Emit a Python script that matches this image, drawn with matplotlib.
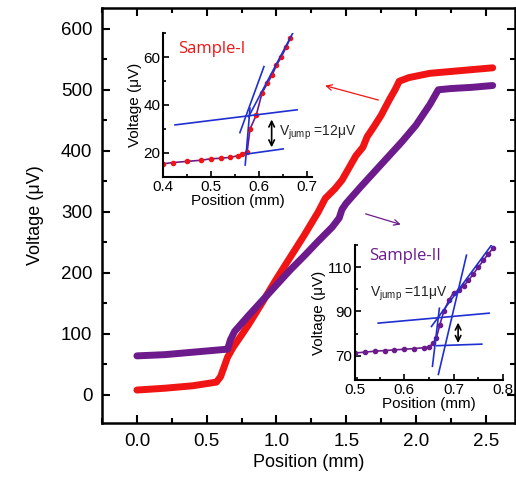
import matplotlib
matplotlib.use("Agg")
import matplotlib.pyplot as plt
from matplotlib.ticker import MultipleLocator

plt.rcParams['font.family'] = ['Liberation Sans', 'DejaVu Sans']

RED = '#f01414'
PURPLE = '#6c1a8c'
BLUE = '#1f2fd0'

# ---- main curves (position mm, voltage uV) ----
x_s1 = [0.0, 0.2, 0.4, 0.57, 0.60, 0.65, 0.69, 0.8, 0.9, 1.0, 1.1, 1.2, 1.3, 1.35,
        1.42, 1.47, 1.52, 1.57, 1.62, 1.65, 1.7, 1.75, 1.81, 1.85, 1.88, 1.95, 2.1, 2.3, 2.55]
v_s1 = [8, 11, 15, 21, 30, 62, 78, 115, 152, 190, 226, 262, 300, 322,
        338, 352, 372, 392, 406, 423, 440, 458, 484, 500, 514, 520, 527, 531, 536]

x_s2 = [0.0, 0.2, 0.4, 0.65, 0.67, 0.70, 0.8, 0.9, 1.0, 1.1, 1.2, 1.3, 1.4, 1.45,
        1.47, 1.5, 1.6, 1.7, 1.8, 1.9, 2.0, 2.1, 2.16, 2.25, 2.4, 2.55]
v_s2 = [64, 66, 70, 75, 90, 104, 130, 155, 180, 205, 228, 252, 275, 290,
        304, 314, 340, 365, 390, 415, 442, 476, 500, 502, 504, 507]

# ---- inset I ----
x_i1 = [0.40, 0.42, 0.45, 0.48, 0.50, 0.52, 0.54, 0.555, 0.565, 0.575, 0.581,
        0.594, 0.606, 0.617, 0.627, 0.636, 0.646, 0.656, 0.665]
v_i1 = [15.5, 16.0, 16.5, 17.0, 17.6, 17.8, 18.2, 18.8, 19.6, 20.4, 30.0,
        35.8, 45.0, 49.0, 52.5, 56.5, 60.0, 64.0, 68.0]
fit_i1 = [([0.575, 0.650], [19.6, 21.7]),
          ([0.425, 0.679], [31.7, 38.0]),
          ([0.571, 0.581], [15.0, 38.7]),
          ([0.560, 0.610], [28.5, 56.0]),
          ([0.578, 0.670], [35.1, 70.0])]

# ---- inset II ----
x_i2 = [0.50, 0.52, 0.54, 0.56, 0.58, 0.60, 0.62, 0.64, 0.65, 0.658, 0.665,
        0.672, 0.68, 0.69, 0.70, 0.71, 0.72, 0.73, 0.74, 0.75, 0.76, 0.77, 0.78]
v_i2 = [71.2, 71.6, 72.0, 72.3, 72.6, 72.9, 73.2, 73.6, 74.0, 75.5, 78.0,
        84.0, 90.0, 95.0, 98.5, 99.5, 101.5, 104.0, 107.0, 110.0, 113.0, 116.0, 118.5]
fit_i2 = [([0.666, 0.757], [74.5, 75.2]),
          ([0.547, 0.772], [84.7, 89.2]),
          ([0.657, 0.671], [65.2, 91.4]),
          ([0.669, 0.726], [61.5, 115.4]),
          ([0.655, 0.790], [83.2, 124.0])]

fig = plt.figure(figsize=(5.16, 4.79), dpi=100)
ax = fig.add_axes([0.1977, 0.1169, 0.8004, 0.8664])
ax.plot(x_s1, v_s1, color=RED, lw=5, solid_capstyle='round', solid_joinstyle='round')
ax.plot(x_s2, v_s2, color=PURPLE, lw=5, solid_capstyle='round', solid_joinstyle='round')
ax.set_xlim(-0.25, 2.71)
ax.set_ylim(-46, 634)
ax.xaxis.set_major_locator(MultipleLocator(0.5))
ax.xaxis.set_minor_locator(MultipleLocator(0.25))
ax.yaxis.set_major_locator(MultipleLocator(100))
ax.yaxis.set_minor_locator(MultipleLocator(50))
ax.tick_params(which='both', direction='in', top=True, right=True, labelsize=13.5, width=1.5)
ax.tick_params(which='major', length=6, pad=7)
ax.tick_params(which='minor', length=3.5)
ax.xaxis.set_major_formatter(plt.FuncFormatter(lambda v, p: f"{v:.1f}"))
for s in ax.spines.values():
    s.set_linewidth(1.8)
ax.set_xlabel('Position (mm)', fontsize=13, labelpad=3)
ax.set_ylabel('Voltage (\u03bcV)', fontsize=13, labelpad=12)

# arrows in main axes
ax.annotate('', xy=(1.33, 508), xytext=(1.75, 482),
            arrowprops=dict(arrowstyle='->', color=RED, lw=0.9))
ax.annotate('', xy=(1.91, 278), xytext=(1.62, 298),
            arrowprops=dict(arrowstyle='->', color=PURPLE, lw=0.9))


def style_inset(a):
    a.spines['top'].set_visible(False)
    a.spines['right'].set_visible(False)
    for s in ('left', 'bottom'):
        a.spines[s].set_linewidth(1.5)
    a.tick_params(which='both', direction='in', labelsize=11, width=1.2, pad=2)
    a.tick_params(which='major', length=4.5)
    a.tick_params(which='minor', length=2.5)
    a.set_facecolor('none')


# inset I
a1 = fig.add_axes([0.3159, 0.6305, 0.2888, 0.3006])
style_inset(a1)
a1.plot(x_i1, v_i1, color=PURPLE, lw=1.2, marker='o', ms=3, mfc=RED, mec=RED)
for xs, ys in fit_i1:
    a1.plot(xs, ys, color=BLUE, lw=1.2)
a1.annotate('', xy=(0.626, 35.1), xytext=(0.626, 21.2),
            arrowprops=dict(arrowstyle='<->', color='black', lw=1.2))
a1.text(0.642, 28.6, 'V$_{\\mathregular{jump}}$ =12\u03bcV', fontsize=10, va='center',
        color='#222222', clip_on=False)
a1.text(0.432, 63.5, 'Sample-I', fontsize=12, color=RED, family='Open Sans', va='center')
a1.set_xlim(0.4, 0.71)
a1.set_ylim(10, 70)
a1.xaxis.set_major_locator(MultipleLocator(0.1))
a1.xaxis.set_minor_locator(MultipleLocator(0.05))
a1.yaxis.set_major_locator(MultipleLocator(20))
a1.yaxis.set_minor_locator(MultipleLocator(10))
a1.set_xlabel('Position (mm)', fontsize=11, labelpad=0)
a1.set_ylabel('Voltage (\u03bcV)', fontsize=11, labelpad=1)

# inset II
a2 = fig.add_axes([0.688, 0.2067, 0.2868, 0.2818])
style_inset(a2)
a2.plot(x_i2, v_i2, color=PURPLE, lw=1.2, marker='o', ms=3, mfc=PURPLE, mec=PURPLE)
for xs, ys in fit_i2:
    a2.plot(xs, ys, color=BLUE, lw=1.2)
a2.annotate('', xy=(0.709, 86.2), xytext=(0.709, 74.5),
            arrowprops=dict(arrowstyle='<->', color='black', lw=1.2))
a2.text(0.53, 98.0, 'V$_{\\mathregular{jump}}$ =11\u03bcV', fontsize=10, va='center',
        color='#222222')
a2.text(0.528, 115.0, 'Sample-II', fontsize=12, color=PURPLE, family='Open Sans', va='center')
a2.set_xlim(0.5, 0.8)
a2.set_ylim(59, 120)
a2.xaxis.set_major_locator(MultipleLocator(0.1))
a2.xaxis.set_minor_locator(MultipleLocator(0.05))
a2.set_yticks([70, 90, 110])
a2.yaxis.set_minor_locator(MultipleLocator(10))
a2.set_xlabel('Position (mm)', fontsize=11, labelpad=0)
a2.set_ylabel('Voltage (\u03bcV)', fontsize=11, labelpad=1)

fig.savefig('out.png', dpi=100)
